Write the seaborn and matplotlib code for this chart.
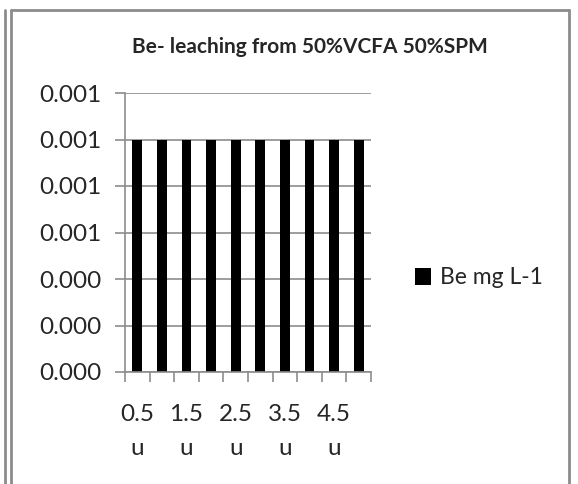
import matplotlib
matplotlib.use("Agg")
import matplotlib.pyplot as plt
import seaborn as sns
import pandas as pd
from matplotlib.lines import Line2D
from matplotlib.patches import Patch
from matplotlib.ticker import FixedLocator, FormatStrFormatter

categories = ["0.5 u", "1 u", "1.5 u", "2 u", "2.5 u", "3 u", "3.5 u", "4 u", "4.5 u", "5 u"]
values = [0.001, 0.001, 0.001, 0.001, 0.001, 0.001, 0.001, 0.001, 0.001, 0.001]
series_name = "Be mg L-1"
title = "Be- leaching from 50%VCFA 50%SPM"
y_ticks = [0, 0.0002, 0.0004, 0.0006, 0.0008, 0.0010, 0.0012]

sns.set_style("white")
plt.rcParams['font.family'] = ['Lato', 'DejaVu Sans']

df = pd.DataFrame({"cat": categories, "val": values})

fig = plt.figure(figsize=(5.78, 4.84), dpi=100)
ax = fig.add_axes([125/578, 1-372/484, (371-125)/578, (372-93)/484])

sns.barplot(data=df, x="cat", y="val", color="black", width=0.4, ax=ax,
            saturation=1, linewidth=0)

grid_c = "#8c8c8c"
ax.set_ylim(0, 0.0012)
ax.set_xlim(-0.5, len(categories)-0.5)
ax.yaxis.set_major_locator(FixedLocator(y_ticks))
ax.yaxis.set_major_formatter(FormatStrFormatter("%.3f"))
ax.yaxis.grid(True, color=grid_c, linewidth=1.2)
ax.set_axisbelow(True)
for s in ["top", "right"]:
    ax.spines[s].set_visible(False)
for s in ["left", "bottom"]:
    ax.spines[s].set_color(grid_c)
    ax.spines[s].set_linewidth(1.2)

ax.tick_params(axis="y", which="major", length=7, width=1.2, color=grid_c,
               labelsize=17.5, pad=10, left=True)

# x labels: every other category, wrapped
ax.set_xticks(range(0, len(categories), 2))
ax.set_xticklabels([c.replace(" ", "\n") for c in categories[::2]], fontsize=17.5,
                   linespacing=1.75)
ax.tick_params(axis="x", which="major", length=0, pad=23)
ax.set_xticks([i - 0.5 for i in range(len(categories)+1)], minor=True)
ax.tick_params(axis="x", which="minor", length=7, width=1.2, color=grid_c, bottom=True)

ax.set_xlabel("")
ax.set_ylabel("")

fig.text(310/578, 1-47/484, title, ha="center", va="center", fontsize=15,
         fontweight="bold")

handle = Patch(facecolor="black", edgecolor="none")
fig.legend([handle], [series_name], loc="center left",
           bbox_to_anchor=(406/578, 1-278/484), frameon=False, fontsize=16.5,
           handlelength=0.7, handleheight=0.7, handletextpad=0.4, borderaxespad=0)

# outer frame lines
fc = "#8c8c8c"
fig.add_artist(Line2D([5/578, 5/578], [0, 1-10/484], color=fc, lw=2))
fig.add_artist(Line2D([11/578, 11/578], [0, 1-10/484], color=fc, lw=2))
fig.add_artist(Line2D([11/578, 569/578], [1-10/484, 1-10/484], color=fc, lw=2))
fig.add_artist(Line2D([569/578, 569/578], [0, 1-10/484], color=fc, lw=2))

fig.savefig("out.png", dpi=100, facecolor="white")
